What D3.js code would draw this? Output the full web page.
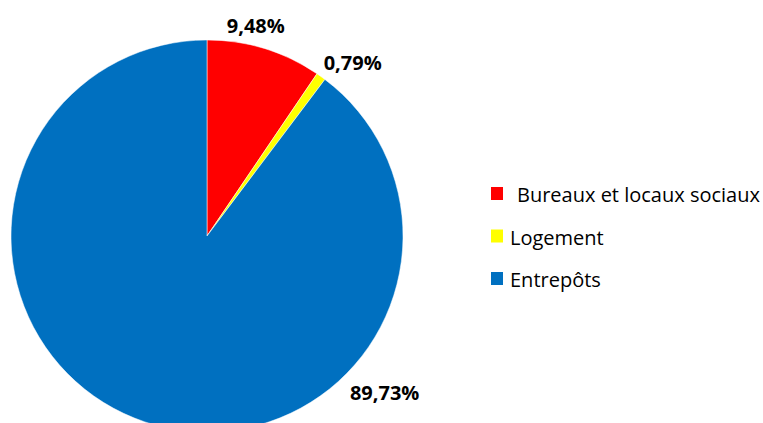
<!DOCTYPE html>
<html>
<head>
<meta charset="utf-8">
<script src="https://cdn.jsdelivr.net/npm/d3@7"></script>
<style>
  body { margin: 0; background: #fff; }
  text { font-family: "Open Sans", "Liberation Sans", sans-serif; }
</style>
</head>
<body>
<div id="chart"></div>
<script>
// chart data
var categories = ["Bureaux et locaux sociaux", "Logement", "Entrepôts"];
var values = [9.48, 0.79, 89.73];
var labels = ["9,48%", "0,79%", "89,73%"];
var colors = ["#FF0000", "#FFFF00", "#0070C0"];

var svgWidth = 763;
var svgHeight = 423;

var svg = d3.select("#chart")
  .append("svg")
  .attr("width", svgWidth)
  .attr("height", svgHeight);

var cx = 207, cy = 236, radius = 196;

var pieGroup = svg.append("g")
  .attr("transform", `translate(${cx}, ${cy})`);

var pie = d3.pie()
  .sort(null)
  .value(d => d);

var arc = d3.arc()
  .innerRadius(0)
  .outerRadius(radius);

var arcs = pie(values);

pieGroup.selectAll("path")
  .data(arcs)
  .enter()
  .append("path")
  .attr("d", arc)
  .attr("fill", (d, i) => colors[i])
  .attr("stroke", "#fff")
  .attr("stroke-width", 0.5);

// data labels: placed outside, Excel style (angle offset, distance from centre)
var labelPlace = [[-0.07, 216], [0.08, 226], [-1.17, 237]];
pieGroup.selectAll(".lbl")
  .data(arcs)
  .enter()
  .append("text")
  .attr("class", "lbl")
  .attr("x", (d, i) => {
    var a = (d.startAngle + d.endAngle) / 2 + labelPlace[i][0];
    return Math.sin(a) * labelPlace[i][1];
  })
  .attr("y", (d, i) => {
    var a = (d.startAngle + d.endAngle) / 2 + labelPlace[i][0];
    return -Math.cos(a) * labelPlace[i][1];
  })
  .attr("dy", "0.35em")
  .attr("text-anchor", "middle")
  .attr("font-size", 20)
  .attr("font-weight", "bold")
  .attr("fill", "#000")
  .text((d, i) => labels[i]);

// legend
var legend = svg.append("g")
  .attr("transform", "translate(491, 187)");

var legendItems = legend.selectAll("g")
  .data(categories)
  .enter()
  .append("g")
  .attr("transform", (d, i) => `translate(0, ${i * 42.5})`);

legendItems.append("rect")
  .attr("width", 12)
  .attr("height", 13)
  .attr("fill", (d, i) => colors[i]);

legendItems.append("text")
  .attr("x", (d, i) => i === 0 ? 26 : 19)
  .attr("y", 15)
  .attr("font-size", 20)
  .attr("fill", "#000")
  .text(d => d);
</script>
</body>
</html>
